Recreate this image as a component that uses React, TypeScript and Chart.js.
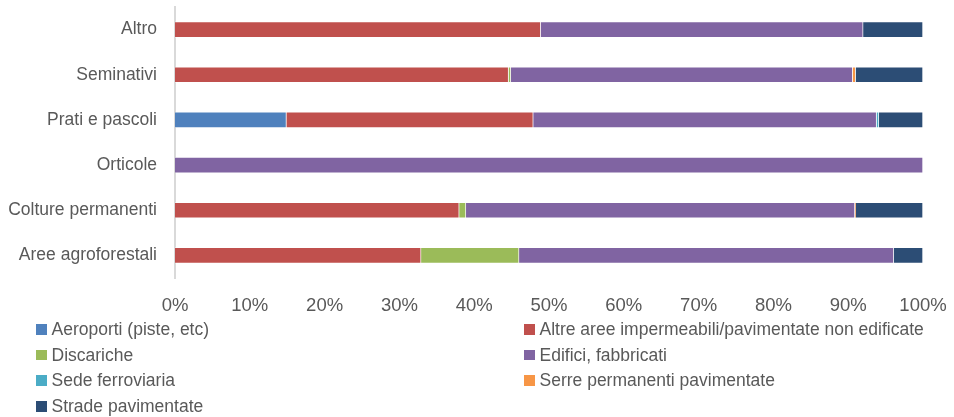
import React, { useEffect, useRef } from "react";
import { Chart, registerables } from "chart.js";

Chart.register(...registerables);

const categories = ["Altro", "Seminativi", "Prati e pascoli", "Orticole", "Colture permanenti", "Aree agroforestali"];
const xTicks = [0, 10, 20, 30, 40, 50, 60, 70, 80, 90, 100];

const seriesNames = [
  "Aeroporti (piste, etc)",
  "Altre aree impermeabili/pavimentate non edificate",
  "Discariche",
  "Edifici, fabbricati",
  "Sede ferroviaria",
  "Serre permanenti pavimentate",
  "Strade pavimentate",
];
const aeroporti = [0, 0, 14.9, 0, 0, 0];
const altreAree = [48.9, 44.6, 33.0, 0, 38.0, 32.9];
const discariche = [0, 0.3, 0, 0, 0.9, 13.1];
const edifici = [43.1, 45.7, 45.9, 100, 52.0, 50.1];
const sedeFerroviaria = [0, 0, 0.3, 0, 0, 0];
const serre = [0, 0.4, 0, 0, 0.1, 0];
const strade = [8.0, 9.0, 5.9, 0, 9.0, 3.9];

const seriesValues = [aeroporti, altreAree, discariche, edifici, sedeFerroviaria, serre, strade];
const seriesColors = ["#4F81BD", "#C0504D", "#9BBB59", "#8064A2", "#4BACC6", "#F79646", "#2C4D75"];

const FONT = '"Liberation Sans", Arial, sans-serif';
const TEXT = "#595959";

export default function App() {
  const ref = useRef<HTMLCanvasElement | null>(null);

  useEffect(() => {
    if (!ref.current) return;
    const chart = new Chart(ref.current, {
      type: "bar",
      data: {
        labels: categories,
        datasets: seriesNames.map((name, i) => ({
          label: name,
          data: seriesValues[i],
          backgroundColor: seriesColors[i],
          borderColor: "rgba(255,255,255,0.35)",
          borderWidth: 1,
          barThickness: 16,
        })),
      },
      options: {
        indexAxis: "y",
        responsive: false,
        animation: false,
        layout: { padding: { top: 7, right: 31, bottom: 99, left: 0 } },
        plugins: { legend: { display: false }, tooltip: { enabled: false } },
        scales: {
          x: {
            stacked: true,
            min: 0,
            max: 100,
            afterBuildTicks: (s: any) => {
              s.ticks = xTicks.map((v) => ({ value: v }));
            },
            afterFit: (s: any) => {
              s.height = 40;
              s.paddingLeft = 0;
              s.paddingRight = 0;
            },
            grid: { display: false, drawTicks: false },
            border: { display: false },
            ticks: {
              padding: 17,
              color: TEXT,
              font: { family: FONT, size: 18.5 },
              callback: (v: any) => v + "%",
            },
          },
          y: {
            stacked: true,
            afterFit: (s: any) => {
              s.width = 175;
              s.paddingTop = 0;
              s.paddingBottom = 0;
            },
            grid: { display: false, drawTicks: false },
            border: { display: true, color: "#D9D9D9", width: 2 },
            ticks: {
              padding: 18,
              color: TEXT,
              font: { family: FONT, size: 17.5 },
            },
          },
        },
      },
    });
    return () => chart.destroy();
  }, []);

  const legendPos = seriesNames.map((_, i) => ({
    left: i % 2 === 0 ? 36 : 524,
    top: 324 + Math.floor(i / 2) * 25.6,
  }));

  return (
    <div style={{ position: "fixed", left: 0, top: 0, width: 954, height: 417, background: "#fff" }}>
      <canvas ref={ref} width={954} height={417} style={{ position: "absolute", left: 0, top: 0, width: 954, height: 417 }} />
      {seriesNames.map((name, i) => (
        <div
          key={name}
          style={{
            position: "absolute",
            left: legendPos[i].left,
            top: legendPos[i].top - 5.5,
            height: 22,
            display: "flex",
            alignItems: "center",
            whiteSpace: "nowrap",
            fontFamily: FONT,
            fontSize: 17.5,
            color: TEXT,
          }}
        >
          <span style={{ display: "inline-block", width: 10.5, height: 10.5, background: seriesColors[i], marginRight: 5 }} />
          <span>{name}</span>
        </div>
      ))}
    </div>
  );
}
